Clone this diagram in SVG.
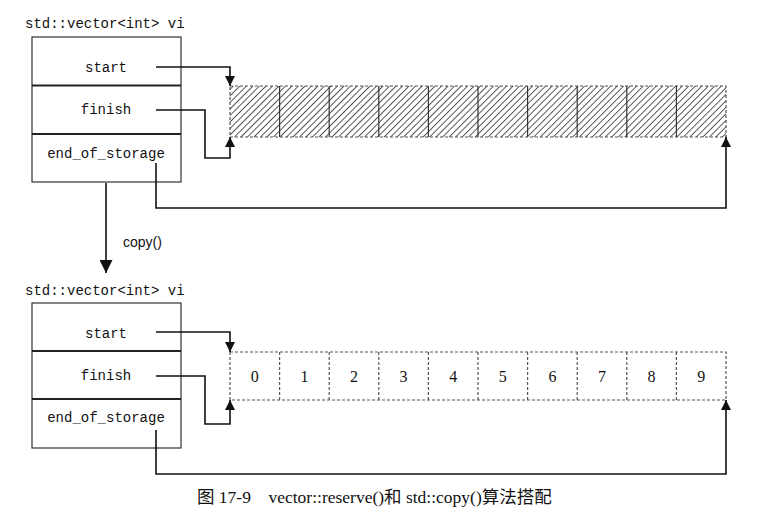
<svg xmlns="http://www.w3.org/2000/svg" width="770" height="525" viewBox="0 0 770 525">
<style>
.mono{font-family:"Liberation Mono","DejaVu Sans Mono",monospace;font-size:14px;fill:#111}
.lbl{font-family:"Liberation Mono","DejaVu Sans Mono",monospace;font-size:14px;fill:#111;text-anchor:middle}
.num{font-family:"Liberation Serif","DejaVu Serif",serif;font-size:16px;fill:#111;text-anchor:middle}
.box{fill:none;stroke:#333;stroke-width:1.2}
.div{stroke:#222;stroke-width:2}
.conn{fill:none;stroke:#111;stroke-width:1.6}
.dash{fill:none;stroke:#555;stroke-width:1.2;stroke-dasharray:3,2}
.cell{stroke:#333;stroke-width:1.2}
.celld{stroke:#555;stroke-width:1.2;stroke-dasharray:3,2}
</style>
<defs>
<marker id="ah" viewBox="0 0 10 10" refX="10" refY="5" markerWidth="10" markerHeight="10" markerUnits="userSpaceOnUse" orient="auto">
<path d="M0,0 L10,5 L0,10 z" fill="#111"/>
</marker>
<marker id="ah2" viewBox="0 0 10 10" refX="10" refY="5" markerWidth="13" markerHeight="13" markerUnits="userSpaceOnUse" orient="auto">
<path d="M0,0 L10,5 L0,10 z" fill="#111"/>
</marker>
<pattern id="hatch" patternUnits="userSpaceOnUse" width="4.6" height="4.6" patternTransform="rotate(45)">
<line x1="0" y1="0" x2="0" y2="4.6" stroke="#222" stroke-width="1.5"/>
</pattern>
</defs>

<g id="vec1">
<text class="mono" x="25" y="28">std::vector&lt;int&gt; vi</text>
<rect class="box" x="32" y="37" width="149" height="145"/>
<line class="div" x1="32" y1="85.5" x2="181" y2="85.5"/>
<line class="div" x1="32" y1="134" x2="181" y2="134"/>
<text class="lbl" x="106" y="72">start</text>
<text class="lbl" x="106" y="114">finish</text>
<text class="lbl" x="106" y="158">end_of_storage</text>
</g>

<g id="array1">
<rect x="230" y="86" width="496" height="51" fill="url(#hatch)"/>
<rect class="dash" x="230" y="86" width="496" height="51"/>
<g class="cell">
<line x1="279.6" y1="86" x2="279.6" y2="137"/>
<line x1="329.2" y1="86" x2="329.2" y2="137"/>
<line x1="378.8" y1="86" x2="378.8" y2="137"/>
<line x1="428.4" y1="86" x2="428.4" y2="137"/>
<line x1="478" y1="86" x2="478" y2="137"/>
<line x1="527.6" y1="86" x2="527.6" y2="137"/>
<line x1="577.2" y1="86" x2="577.2" y2="137"/>
<line x1="626.8" y1="86" x2="626.8" y2="137"/>
<line x1="676.4" y1="86" x2="676.4" y2="137"/>
</g>
</g>

<g id="vec2">
<text class="mono" x="25" y="295">std::vector&lt;int&gt; vi</text>
<rect class="box" x="32" y="303" width="149" height="145"/>
<line class="div" x1="32" y1="351" x2="181" y2="351"/>
<line class="div" x1="32" y1="399" x2="181" y2="399"/>
<text class="lbl" x="106" y="338">start</text>
<text class="lbl" x="106" y="380">finish</text>
<text class="lbl" x="106" y="422">end_of_storage</text>
</g>

<g id="array2">
<rect class="dash" x="230" y="352" width="496" height="48"/>
<g class="celld">
<line x1="279.6" y1="352" x2="279.6" y2="400"/>
<line x1="329.2" y1="352" x2="329.2" y2="400"/>
<line x1="378.8" y1="352" x2="378.8" y2="400"/>
<line x1="428.4" y1="352" x2="428.4" y2="400"/>
<line x1="478" y1="352" x2="478" y2="400"/>
<line x1="527.6" y1="352" x2="527.6" y2="400"/>
<line x1="577.2" y1="352" x2="577.2" y2="400"/>
<line x1="626.8" y1="352" x2="626.8" y2="400"/>
<line x1="676.4" y1="352" x2="676.4" y2="400"/>
</g>
<text class="num" x="254.8" y="382">0</text>
<text class="num" x="304.4" y="382">1</text>
<text class="num" x="354" y="382">2</text>
<text class="num" x="403.6" y="382">3</text>
<text class="num" x="453.2" y="382">4</text>
<text class="num" x="502.8" y="382">5</text>
<text class="num" x="552.4" y="382">6</text>
<text class="num" x="602" y="382">7</text>
<text class="num" x="651.6" y="382">8</text>
<text class="num" x="701.2" y="382">9</text>
</g>

<g id="connectors">
<path class="conn" d="M156,67 H230 V86" marker-end="url(#ah)"/>
<path class="conn" d="M156,110 H205 V158 H230 V137" marker-end="url(#ah)"/>
<path class="conn" d="M156,163 V208 H726 V137" marker-end="url(#ah)"/>
<path class="conn" d="M106,183 V273" marker-end="url(#ah2)"/>
<path class="conn" d="M156,332 H230 V352" marker-end="url(#ah)"/>
<path class="conn" d="M156,376 H205 V424 H230 V400" marker-end="url(#ah)"/>
<path class="conn" d="M156,430 V474 H726 V400" marker-end="url(#ah)"/>
</g>

<text x="123" y="247" style="font-family:'Liberation Sans','DejaVu Sans',sans-serif;font-size:14px;fill:#111">copy()</text>

<text x="197" y="503" style="font-family:'Liberation Serif','Noto Sans CJK SC',serif;font-size:17.5px;fill:#111" xml:space="preserve">图 17-9    vector::reserve()和 std::copy()算法搭配</text>
</svg>
